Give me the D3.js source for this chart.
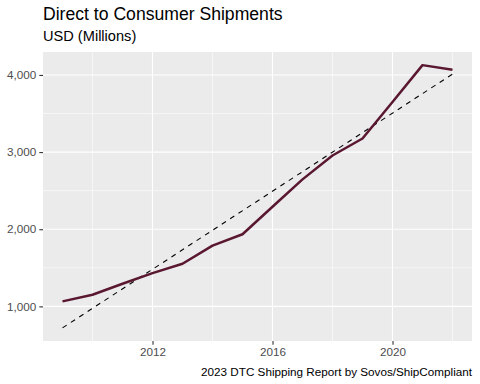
<!DOCTYPE html>
<html>
<head>
<meta charset="utf-8">
<script src="https://cdn.jsdelivr.net/npm/d3@7"></script>
<style>
  body { margin: 0; background: #fff; }
  text { font-family: "Liberation Sans", Arial, sans-serif; }
</style>
</head>
<body>
<script>
var width = 480, height = 384;

// data (USD millions)
var years = [2009, 2010, 2011, 2012, 2013, 2014, 2015, 2016, 2017, 2018, 2019, 2020, 2021, 2022];
var shipments = [1065, 1151, 1293, 1431, 1552, 1788, 1935, 2292, 2646, 2956, 3176, 3649, 4127, 4067];
var xBreaks = [2012, 2016, 2020];
var xMinor = [2010, 2014, 2018, 2022];
var yBreaks = [1000, 2000, 3000, 4000];
var yMinor = [1500, 2500, 3500];

var margin = {top: 52, right: 8, bottom: 43, left: 43};

var svg = d3.select("body").append("svg")
    .attr("width", width)
    .attr("height", height);

// linear fit (geom_smooth method = lm)
var xm = d3.mean(years), ym = d3.mean(shipments);
var sxy = d3.sum(years, function(d, i) { return (d - xm) * (shipments[i] - ym); });
var sxx = d3.sum(years, function(d) { return (d - xm) * (d - xm); });
var slope = sxy / sxx, icpt = ym - slope * xm;
var fit = [years[0], years[years.length - 1]].map(function(y) { return [y, icpt + slope * y]; });

var xr = d3.extent(years);
var yr = d3.extent(shipments.concat(fit.map(function(d) { return d[1]; })));
var xpad = (xr[1] - xr[0]) * 0.05, ypad = (yr[1] - yr[0]) * 0.05;

var x = d3.scaleLinear()
    .domain([xr[0] - xpad, xr[1] + xpad])
    .range([margin.left, width - margin.right]);
var y = d3.scaleLinear()
    .domain([yr[0] - ypad, yr[1] + ypad])
    .range([height - margin.bottom, margin.top]);

svg.append("rect")
    .attr("x", margin.left).attr("y", margin.top)
    .attr("width", width - margin.left - margin.right)
    .attr("height", height - margin.top - margin.bottom)
    .attr("fill", "#EBEBEB");

var grid = svg.append("g").attr("stroke", "#fff");
grid.selectAll(".ymin").data(yMinor).enter().append("line")
    .attr("x1", margin.left).attr("x2", width - margin.right)
    .attr("y1", function(d) { return y(d); }).attr("y2", function(d) { return y(d); })
    .attr("stroke-width", 0.55);
grid.selectAll(".xmin").data(xMinor).enter().append("line")
    .attr("y1", margin.top).attr("y2", height - margin.bottom)
    .attr("x1", function(d) { return x(d); }).attr("x2", function(d) { return x(d); })
    .attr("stroke-width", 0.55);
grid.selectAll(".ymaj").data(yBreaks).enter().append("line")
    .attr("x1", margin.left).attr("x2", width - margin.right)
    .attr("y1", function(d) { return y(d); }).attr("y2", function(d) { return y(d); })
    .attr("stroke-width", 1.1);
grid.selectAll(".xmaj").data(xBreaks).enter().append("line")
    .attr("y1", margin.top).attr("y2", height - margin.bottom)
    .attr("x1", function(d) { return x(d); }).attr("x2", function(d) { return x(d); })
    .attr("stroke-width", 1.1);

// axes
var xAxis = svg.append("g")
    .attr("transform", "translate(0," + (height - margin.bottom) + ")")
    .call(d3.axisBottom(x).tickValues(xBreaks).tickFormat(d3.format("d")).tickSize(3.7).tickPadding(3));
var yAxis = svg.append("g")
    .attr("transform", "translate(" + margin.left + ",0)")
    .call(d3.axisLeft(y).tickValues(yBreaks).tickFormat(d3.format(",")).tickSize(3.7).tickPadding(3));
[xAxis, yAxis].forEach(function(a) {
  a.select(".domain").remove();
  a.selectAll("line").attr("stroke", "#333333").attr("stroke-width", 1.1);
  a.selectAll("text").attr("fill", "#4D4D4D").style("font-size", "11.7px")
    .style("font-family", "'Liberation Sans', Arial, sans-serif");
});

// fitted line
svg.append("path")
    .datum(fit)
    .attr("fill", "none")
    .attr("stroke", "black")
    .attr("stroke-width", 1.1)
    .attr("stroke-dasharray", "5,5")
    .attr("d", d3.line().x(function(d) { return x(d[0]); }).y(function(d) { return y(d[1]); }));

// data line
svg.append("path")
    .datum(years)
    .attr("fill", "none")
    .attr("stroke", "#5A1730")
    .attr("stroke-width", 2.5)
    .attr("stroke-linejoin", "round")
    .attr("d", d3.line()
      .x(function(d) { return x(d); })
      .y(function(d, i) { return y(shipments[i]); }));

// titles
svg.append("text")
    .attr("x", margin.left).attr("y", 20)
    .style("font-size", "17.6px").attr("fill", "black")
    .text("Direct to Consumer Shipments");
svg.append("text")
    .attr("x", margin.left).attr("y", 41)
    .style("font-size", "14.6px").attr("fill", "black")
    .text("USD (Millions)");
svg.append("text")
    .attr("x", width - margin.right).attr("y", 375.5)
    .attr("text-anchor", "end")
    .style("font-size", "11.7px").attr("fill", "black")
    .text("2023 DTC Shipping Report by Sovos/ShipCompliant");
</script>
</body>
</html>
